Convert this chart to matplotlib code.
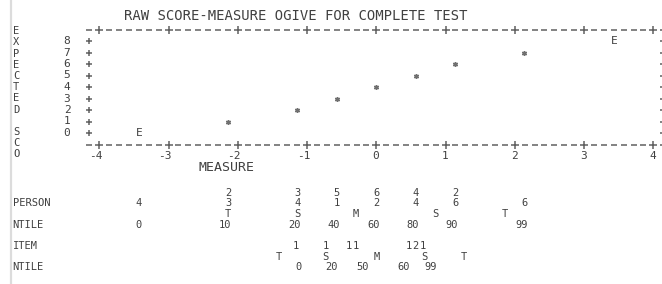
import numpy as np
import matplotlib
matplotlib.use("Agg")
import matplotlib.pyplot as plt
from matplotlib.transforms import blended_transform_factory
from matplotlib.lines import Line2D

# ---------------- data ----------------
title = "RAW SCORE-MEASURE OGIVE FOR COMPLETE TEST"
x_label = "MEASURE"
y_label = "EXPECTED SCO"
scores = [0, 1, 2, 3, 4, 5, 6, 7, 8]
measures = [-3.43, -2.14, -1.14, -0.57, 0.00, 0.57, 1.14, 2.14, 3.43]
x_ticks = [-4, -3, -2, -1, 0, 1, 2, 3, 4]
y_ticks = [0, 1, 2, 3, 4, 5, 6, 7, 8]

person_counts = [4, 23, 34, 51, 62, 44, 26, 6, 0]
person_ntile = ["0", "10", "20", "40", "60", "80", "90", "99"]
person_stat_labels = ["T", "S", "M", "S", "T"]
person_stat_pos = [-2.14, -1.14, -0.29, 0.86, 1.86]

item_pos = [-1.16, -0.73, -0.39, -0.29, 0.47, 0.57, 0.67]
item_counts = [1, 1, 1, 1, 1, 2, 1]
item_stat_labels = ["T", "S", "M", "S", "T"]
item_stat_pos = [-1.40, -0.73, 0.00, 0.69, 1.27]
item_ntile = ["0", "20", "50", "60", "99"]
item_ntile_pos = [-1.12, -0.60, -0.16, 0.44, 0.83]

# ---------------- style ----------------
W, H = 662, 284
MONO = "DejaVu Sans Mono"
TXT = "#404040"
MARK = "#606060"
plt.rcParams["font.family"] = [MONO, "DejaVu Sans"]

fig = plt.figure(figsize=(W / 100, H / 100), dpi=100)
fig.patch.set_facecolor("white")

X0, X1 = 99.3, 653.3          # pixel of measure -4 and 4
Y_TOP, Y_BOT = 29.5, 144.5    # pixel (from top) of rows 9 and -1
ax = fig.add_axes([X0 / W, 1 - Y_BOT / H, (X1 - X0) / W, (Y_BOT - Y_TOP) / H])
ax.set_xlim(-4, 4)
ax.set_ylim(-1, 9)
ax.axis("off")

def fy(px):
    return 1 - px / H

bt = blended_transform_factory(ax.transData, fig.transFigure)

# faint screenshot border line
fig.add_artist(Line2D([10.8 / W] * 2, [0, 1], color="#dcdcdc", lw=1.6,
                      transform=fig.transFigure))

# ---------------- character-grid frame ----------------
k = np.arange(-29, 30)
is_tick = (k % 7 == 0) & (np.abs(k) <= 28)
for yy in (-1, 9):
    ax.plot(k[is_tick] / 7, np.full(is_tick.sum(), yy), ls="none", marker="+",
            ms=6, mew=1.1, color=MARK, clip_on=False)
    ax.plot(k[~is_tick] / 7, np.full((~is_tick).sum(), yy), ls="none", marker="_",
            ms=4.5, mew=1.1, color=MARK, clip_on=False)
for xx in (-29 / 7, 29 / 7):
    ax.plot(np.full(len(y_ticks), xx), y_ticks, ls="none", marker="+",
            ms=5, mew=1.1, color=MARK, clip_on=False)

# tick labels
for t in x_ticks:
    ax.text(t + 0.045, -2, str(t), ha="right", va="center", fontsize=8,
            color=TXT, clip_on=False)
for s in y_ticks:
    ax.text(-4.466, s, str(s), ha="center", va="center", fontsize=8,
            color=TXT, clip_on=False)

# titles
fig.text(296 / W, fy(16), title, ha="center", va="center", fontsize=10, color=TXT)
ax.text(-2.156, -3, x_label, ha="center", va="center", fontsize=9.5, color=TXT,
        clip_on=False)

# vertical y label: one text with calibrated line spacing
yl = fig.text(16 / W, fy((Y_TOP + Y_BOT + 11.5) / 2), "\n".join(y_label),
              ha="center", va="center", fontsize=7.5, color=TXT, linespacing=1.0)
fig.canvas.draw()
r = fig.canvas.get_renderer()
h_all = yl.get_window_extent(r).height
tmp = fig.text(0, 0, "E", fontsize=7.5)
h_one = tmp.get_window_extent(r).height
tmp.remove()
pitch = (h_all - h_one) / (len(y_label) - 1)
yl.set_linespacing(11.5 / pitch)

# ---------------- ogive points ----------------
ax.plot(measures[1:-1], scores[1:-1], ls="none", marker=(6, 2, 0), ms=3.6,
        mew=1.0, color="#707070")
for i in (0, -1):
    ax.text(measures[i], scores[i], "E", ha="center", va="center", fontsize=8,
            color=TXT)

# ---------------- person distribution ----------------
FS = 7.5
for m, c in zip(measures, person_counts):
    if c <= 0:
        continue
    digits = str(c)
    rows = [203.5] if len(digits) == 1 else [193, 203.5]
    for d, rpx in zip(digits, rows):
        ax.text(m, fy(rpx), d, transform=bt, ha="center", va="center",
                fontsize=FS, color=TXT)
for lab, p in zip(person_stat_labels, person_stat_pos):
    ax.text(p, fy(214), lab, transform=bt, ha="center", va="center",
            fontsize=FS, color=TXT)
for lab, m in zip(person_ntile, measures):
    ax.text(m + 0.045, fy(224.5), lab, transform=bt, ha="right", va="center",
            fontsize=FS, color=TXT)

# ---------------- item distribution ----------------
for p, c in zip(item_pos, item_counts):
    ax.text(p, fy(246), str(c), transform=bt, ha="center", va="center",
            fontsize=FS, color=TXT)
for lab, p in zip(item_stat_labels, item_stat_pos):
    ax.text(p, fy(256.5), lab, transform=bt, ha="center", va="center",
            fontsize=FS, color=TXT)
for lab, p in zip(item_ntile, item_ntile_pos):
    ax.text(p + 0.045, fy(267), lab, transform=bt, ha="right", va="center",
            fontsize=FS, color=TXT)

# row labels
for lab, rpx in (("PERSON", 203.5), ("NTILE", 224.5), ("ITEM", 246), ("NTILE", 267)):
    fig.text(12.5 / W, fy(rpx), lab, ha="left", va="center", fontsize=FS, color=TXT)

fig.savefig("out.png", dpi=100, facecolor="white")
